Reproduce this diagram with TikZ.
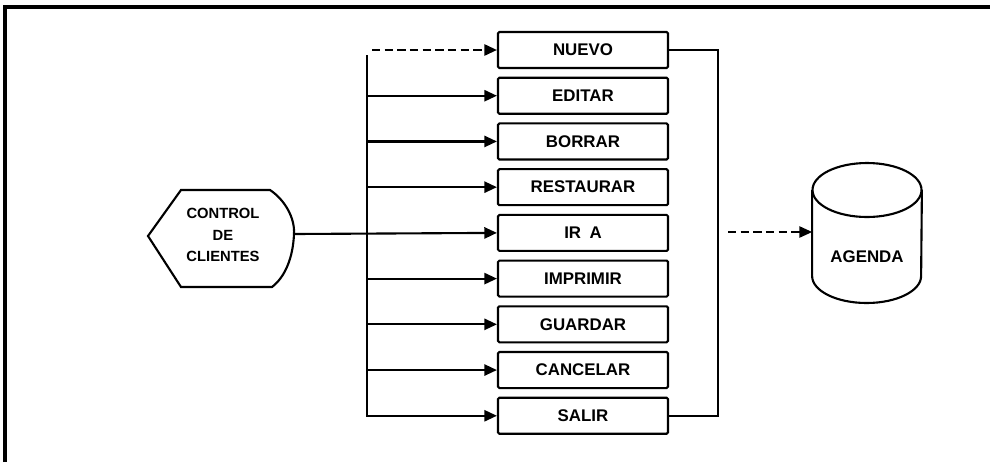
\documentclass[tikz,border=0pt]{standalone}
\usepackage{fontspec}
\setmainfont{Liberation Sans}
\usetikzlibrary{positioning,shapes.geometric,arrows.meta}

\begin{document}
\begin{tikzpicture}[x=0.025cm,y=-0.025cm,
      every node/.style={font=\bfseries\large},
      linea/.style={line width=1.5pt},
      opcion/.style={draw, rounded corners=1pt, line width=1.5pt,
        minimum width=4.25cm, minimum height=0.9cm},
      flecha/.style={linea, -{Triangle[length=9pt,width=8pt]}},
      guiones/.style={dash pattern=on 6pt off 3pt},
      node distance=0.19cm]
    \useasboundingbox (0,0) rectangle (990,462);
    % marco
    \draw[line width=2.5pt] (5,462) -- (5,7) -- (990,7);
    % menu de opciones
    \node[opcion] (nuevo) at (583,50) {NUEVO};
    \node[opcion, below=of nuevo] (editar) {EDITAR};
    \node[opcion, below=of editar] (borrar) {BORRAR};
    \node[opcion, below=of borrar] (restaurar) {RESTAURAR};
    \node[opcion, below=of restaurar] (ira) {IR\enspace A};
    \node[opcion, below=of ira] (imprimir) {IMPRIMIR};
    \node[opcion, below=of imprimir] (guardar) {GUARDAR};
    \node[opcion, below=of guardar] (cancelar) {CANCELAR};
    \node[opcion, below=of cancelar] (salir) {SALIR};
    % control de clientes
    \node[align=center, font=\bfseries\fontsize{10.5}{15.5}\selectfont]
      (control) at (223,235) {CONTROL\\DE\\CLIENTES};
    \coordinate (punta) at (294,234);
    \draw[linea] (148,236) -- (181,190) -- (270,190)
      .. controls (285,200) and (295,218) .. (punta)
      .. controls (293,258) and (285,277) .. (272,287)
      -- (181,287) -- cycle;
    % agenda (cilindro)
    \node[minimum width=2.73cm, minimum height=3.5cm, inner sep=0pt] (agenda) at (867,233) {};
    \node (rotulo) at (867,257) {AGENDA};
    \draw[linea] (867,190) ellipse[x radius=54.5, y radius=27];
    \draw[linea] (agenda.west |- 0,190) -- (agenda.west |- 0,276)
      arc[start angle=180, end angle=0, x radius=54.5, y radius=27]
      -- (agenda.east |- 0,190);
    % conexiones
    \coordinate (bus) at (367,234);
    \coordinate (bustope) at (367,55);
    \coordinate (salida) at (728,232);
    \draw[flecha] (punta) -- (ira.west);
    \draw[flecha] (bustope) -- (bus |- salir.west) -- (salir.west);
    \draw[flecha, guiones] (bus |- nuevo.west) ++(5,0) -- (nuevo.west);
    \foreach \op in {editar,borrar,restaurar,imprimir,guardar,cancelar}
      \draw[flecha] (bus |- \op.west) -- (\op.west);
    \draw[linea] (nuevo.east) -- ++(49,0) |- (salir.east);
    \draw[flecha, guiones, line width=1pt] (salida) -- (agenda.west |- salida);
\end{tikzpicture}
\end{document}
